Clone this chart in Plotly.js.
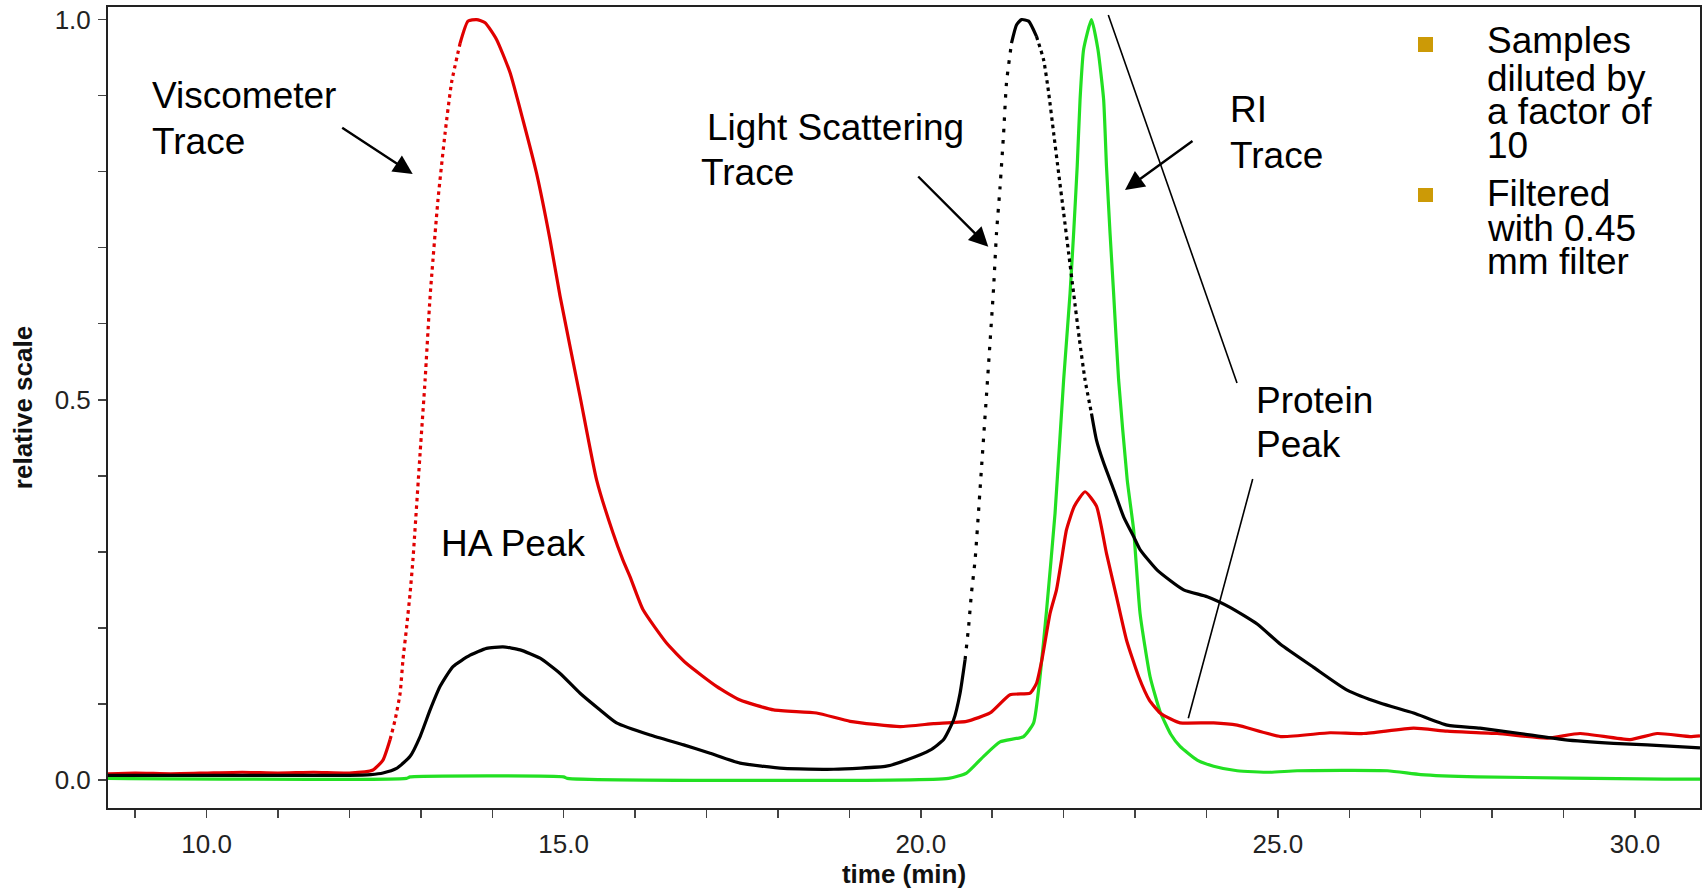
<!DOCTYPE html>
<html>
<head>
<meta charset="utf-8">
<script src="https://cdn.plot.ly/plotly-3.0.1.min.js"></script>
<style>
  html, body { margin: 0; padding: 0; background: #fff; }
  #chart { width: 1708px; height: 889px; }
</style>
</head>
<body>
<div id="chart"></div>
<script>
// Viscometer detector (red)
const viscTime = [8.62, 9.0, 9.5, 10.0, 10.5, 11.0, 11.5, 12.0, 12.33, 12.47, 12.57, 12.64, 12.71, 12.75, 12.8, 12.85, 12.89, 12.99, 13.06, 13.13, 13.24, 13.34, 13.43, 13.55, 13.66, 13.78, 13.9, 14.06, 14.25, 14.43, 14.62, 14.81, 14.95, 15.23, 15.46, 15.69, 15.83, 15.93, 16.11, 16.44, 16.72, 17.14, 17.47, 17.94, 18.54, 19.01, 19.71, 20.18, 20.64, 20.97, 21.25, 21.53, 21.62, 21.7, 21.81, 21.9, 21.97, 22.04, 22.15, 22.3, 22.46, 22.6, 22.74, 22.88, 23.05, 23.2, 23.35, 23.5, 23.63, 24.1, 24.43, 25.04, 25.73, 26.2, 26.9, 27.37, 28.07, 28.77, 29.23, 29.93, 30.31, 30.77, 30.91];
const viscSignal = [0.008, 0.009, 0.008, 0.009, 0.010, 0.009, 0.010, 0.009, 0.013, 0.026, 0.053, 0.079, 0.114, 0.158, 0.200, 0.246, 0.290, 0.430, 0.526, 0.636, 0.763, 0.851, 0.917, 0.969, 0.998, 1.000, 0.996, 0.974, 0.930, 0.868, 0.798, 0.710, 0.636, 0.504, 0.395, 0.325, 0.289, 0.267, 0.224, 0.180, 0.153, 0.123, 0.105, 0.092, 0.088, 0.077, 0.070, 0.074, 0.077, 0.088, 0.112, 0.114, 0.127, 0.160, 0.219, 0.250, 0.289, 0.329, 0.360, 0.379, 0.360, 0.298, 0.241, 0.184, 0.136, 0.105, 0.088, 0.080, 0.075, 0.075, 0.072, 0.057, 0.062, 0.061, 0.068, 0.064, 0.061, 0.055, 0.061, 0.053, 0.061, 0.057, 0.058];

// Light scattering detector (black)
const lsTime = [8.62, 10.0, 11.0, 12.0, 12.3, 12.47, 12.66, 12.85, 12.99, 13.13, 13.27, 13.45, 13.69, 13.92, 14.15, 14.39, 14.67, 14.95, 15.23, 15.51, 15.74, 16.21, 16.68, 17.05, 17.47, 18.08, 18.78, 19.52, 19.8, 20.13, 20.32, 20.46, 20.55, 20.62, 20.67, 20.71, 20.76, 20.85, 20.93, 21.02, 21.06, 21.11, 21.16, 21.2, 21.27, 21.34, 21.41, 21.51, 21.62, 21.72, 21.79, 21.86, 21.93, 22.0, 22.07, 22.14, 22.22, 22.3, 22.39, 22.46, 22.56, 22.7, 22.84, 22.98, 23.07, 23.31, 23.68, 24.01, 24.33, 24.71, 25.04, 25.5, 25.97, 26.43, 26.9, 27.37, 27.83, 28.39, 29.0, 29.7, 30.17, 30.91];
const lsSignal = [0.006, 0.006, 0.006, 0.006, 0.007, 0.009, 0.015, 0.031, 0.057, 0.092, 0.123, 0.149, 0.164, 0.173, 0.175, 0.171, 0.160, 0.140, 0.114, 0.092, 0.075, 0.059, 0.046, 0.035, 0.022, 0.015, 0.014, 0.018, 0.026, 0.039, 0.053, 0.079, 0.114, 0.158, 0.202, 0.246, 0.289, 0.410, 0.520, 0.648, 0.719, 0.780, 0.851, 0.917, 0.969, 0.993, 1.000, 0.998, 0.978, 0.947, 0.904, 0.851, 0.798, 0.746, 0.693, 0.640, 0.580, 0.526, 0.482, 0.447, 0.417, 0.382, 0.346, 0.320, 0.303, 0.276, 0.250, 0.241, 0.227, 0.205, 0.178, 0.148, 0.118, 0.101, 0.088, 0.072, 0.068, 0.061, 0.053, 0.048, 0.046, 0.042];

// Refractive index detector (green)
const riTime = [8.62, 12.8, 12.85, 15.0, 15.05, 20.39, 20.64, 20.88, 21.11, 21.44, 21.58, 21.67, 21.76, 21.88, 22.0, 22.09, 22.14, 22.19, 22.23, 22.28, 22.39, 22.48, 22.56, 22.6, 22.65, 22.7, 22.77, 22.89, 22.98, 23.07, 23.21, 23.35, 23.5, 23.63, 23.87, 24.1, 24.43, 24.89, 25.27, 26.53, 27.0, 27.79, 30.41, 30.91];
const riSignal = [0.002, 0.002, 0.004, 0.004, 0.002, 0.002, 0.009, 0.031, 0.050, 0.057, 0.075, 0.136, 0.222, 0.351, 0.526, 0.640, 0.719, 0.807, 0.895, 0.961, 1.000, 0.961, 0.895, 0.807, 0.719, 0.640, 0.526, 0.395, 0.329, 0.219, 0.136, 0.090, 0.060, 0.044, 0.026, 0.018, 0.012, 0.010, 0.012, 0.012, 0.007, 0.004, 0.001, 0.001];

// Axis settings
const xRange = [8.62, 30.91];
const yRange = [-0.037, 1.0166];
const xTitle = 'time (min)';
const yTitle = 'relative scale';

// Notes beside the plot
const noteLines1 = ['Samples', 'diluted by', 'a factor of', '10'];
const noteLines2 = ['Filtered', 'with 0.45', 'mm filter'];

// Layout geometry (pixels)
const W = 1708, H = 889;
const M = { l: 108, r: 8, t: 7, b: 81 };
const plotW = W - M.l - M.r, plotH = H - M.t - M.b;
const px = v => (v - M.l) / plotW;             // page x -> paper x
const py = v => (H - M.b - v) / plotH;         // page y -> paper y

const FONT = 'Arial, "Liberation Sans", sans-serif';
const LABEL_SIZE = 37;
const midFromBase = b => b - 0.35 * LABEL_SIZE;

function textAt(text, left, baseline) {
  return {
    text: text, xref: 'paper', yref: 'paper',
    x: px(left - 3), y: py(midFromBase(baseline)),
    xanchor: 'left', yanchor: 'middle', showarrow: false,
    font: { family: FONT, size: LABEL_SIZE, color: '#000' }
  };
}

function arrow(tip, tail) {
  return {
    text: '', xref: 'paper', yref: 'paper',
    x: px(tip[0]), y: py(tip[1]),
    ax: tail[0] - tip[0], ay: tail[1] - tip[1],
    showarrow: true, arrowhead: 2, arrowsize: 1.6, arrowwidth: 2.4,
    arrowcolor: '#000', standoff: 0, startstandoff: 0
  };
}

const annotations = [
  textAt('Viscometer', 152.7, 108.3),
  textAt('Trace', 152.7, 154),
  textAt('Light Scattering', 708, 140),
  textAt('Trace', 702, 185),
  textAt('RI', 1231, 122.6),
  textAt('Trace', 1231, 168.3),
  textAt('Protein', 1257.3, 413.3),
  textAt('Peak', 1257.3, 457.3),
  textAt('HA Peak', 441.7, 556.7),
  arrow([412.7, 174], [340.7, 126.7]),
  arrow([988.3, 246.7], [916.7, 175]),
  arrow([1125, 190], [1194, 140])
];
const noteBase1 = [53.5, 91, 124, 158];
const noteBase2 = [206, 241.5, 274.5];
noteLines1.forEach((t, i) => annotations.push(textAt(t, 1488, noteBase1[i])));
noteLines2.forEach((t, i) => annotations.push(textAt(t, 1488, noteBase2[i])));

function pline(a, b, w) {
  return { type: 'line', xref: 'paper', yref: 'paper',
    x0: px(a[0]), y0: py(a[1]), x1: px(b[0]), y1: py(b[1]),
    line: { color: '#000', width: w } };
}
function bullet(x0, y0, x1, y1) {
  return { type: 'rect', xref: 'paper', yref: 'paper',
    x0: px(x0), y0: py(y1), x1: px(x1), y1: py(y0),
    fillcolor: '#CC9A06', line: { width: 0 } };
}
const shapes = [
  pline([1108.3, 15], [1237, 383], 1.6),
  pline([1252.7, 479], [1188.3, 718.3], 1.6),
  bullet(1418, 37, 1433, 52),
  bullet(1418, 188, 1433, 202)
];

// Split a detector trace into runs; fast-rising stretches are drawn as sparse dots
// because the detector samples are far apart there.
function runs(t, v, color, pieces) {
  return pieces.map(([t0, t1, dash]) => {
    const xs = [], ys = [];
    t.forEach((ti, i) => { if (ti >= t0 && ti <= t1) { xs.push(ti); ys.push(v[i]); } });
    return { x: xs, y: ys, type: 'scatter', mode: 'lines', hoverinfo: 'skip',
      line: { color: color, width: 3.2, dash: dash, shape: 'spline', smoothing: 0.5 } };
  });
}

const RED = '#E00000', BLACK = '#000000', GREEN = '#22E022';
const traces = [].concat(
  runs(riTime, riSignal, GREEN, [[8.62, 30.91, 'solid']]),
  runs(viscTime, viscSignal, RED, [
    [8.62, 12.57, 'solid'], [12.57, 13.55, '3.5px,4px'], [13.55, 30.91, 'solid']
  ]),
  runs(lsTime, lsSignal, BLACK, [
    [8.62, 20.62, 'solid'], [20.62, 21.27, '3.5px,8px'], [21.27, 21.62, 'solid'],
    [21.62, 22.39, '3.5px,4px'], [22.39, 30.91, 'solid']
  ])
);

const axisCommon = {
  showline: true, mirror: true, linecolor: '#222', linewidth: 2,
  showgrid: false, zeroline: false,
  ticks: 'outside', ticklen: 8, tickwidth: 1.5, tickcolor: '#444',
  tickfont: { family: FONT, size: 26, color: '#222' },
  tickformat: '.1f'
};

const layout = {
  width: W, height: H,
  margin: M,
  paper_bgcolor: '#fff', plot_bgcolor: '#fff',
  showlegend: false,
  xaxis: Object.assign({}, axisCommon, {
    range: xRange, tick0: 0, dtick: 5, ticklabelstandoff: 4,
    minor: { dtick: 1, ticks: 'outside', ticklen: 8, tickwidth: 1.5, tickcolor: '#444', showgrid: false },
    title: { text: xTitle, standoff: 4, font: { family: FONT, size: 26, color: '#111', weight: 'bold' } }
  }),
  yaxis: Object.assign({}, axisCommon, {
    range: yRange, tick0: 0, dtick: 0.5, ticklabelstandoff: 2,
    minor: { dtick: 0.1, ticks: 'outside', ticklen: 8, tickwidth: 1.5, tickcolor: '#444', showgrid: false },
    title: { text: yTitle, standoff: 15, font: { family: FONT, size: 26, color: '#111', weight: 'bold' } }
  }),
  annotations: annotations,
  shapes: shapes
};

Plotly.newPlot('chart', traces, layout, { staticPlot: true, displayModeBar: false });
</script>
</body>
</html>
